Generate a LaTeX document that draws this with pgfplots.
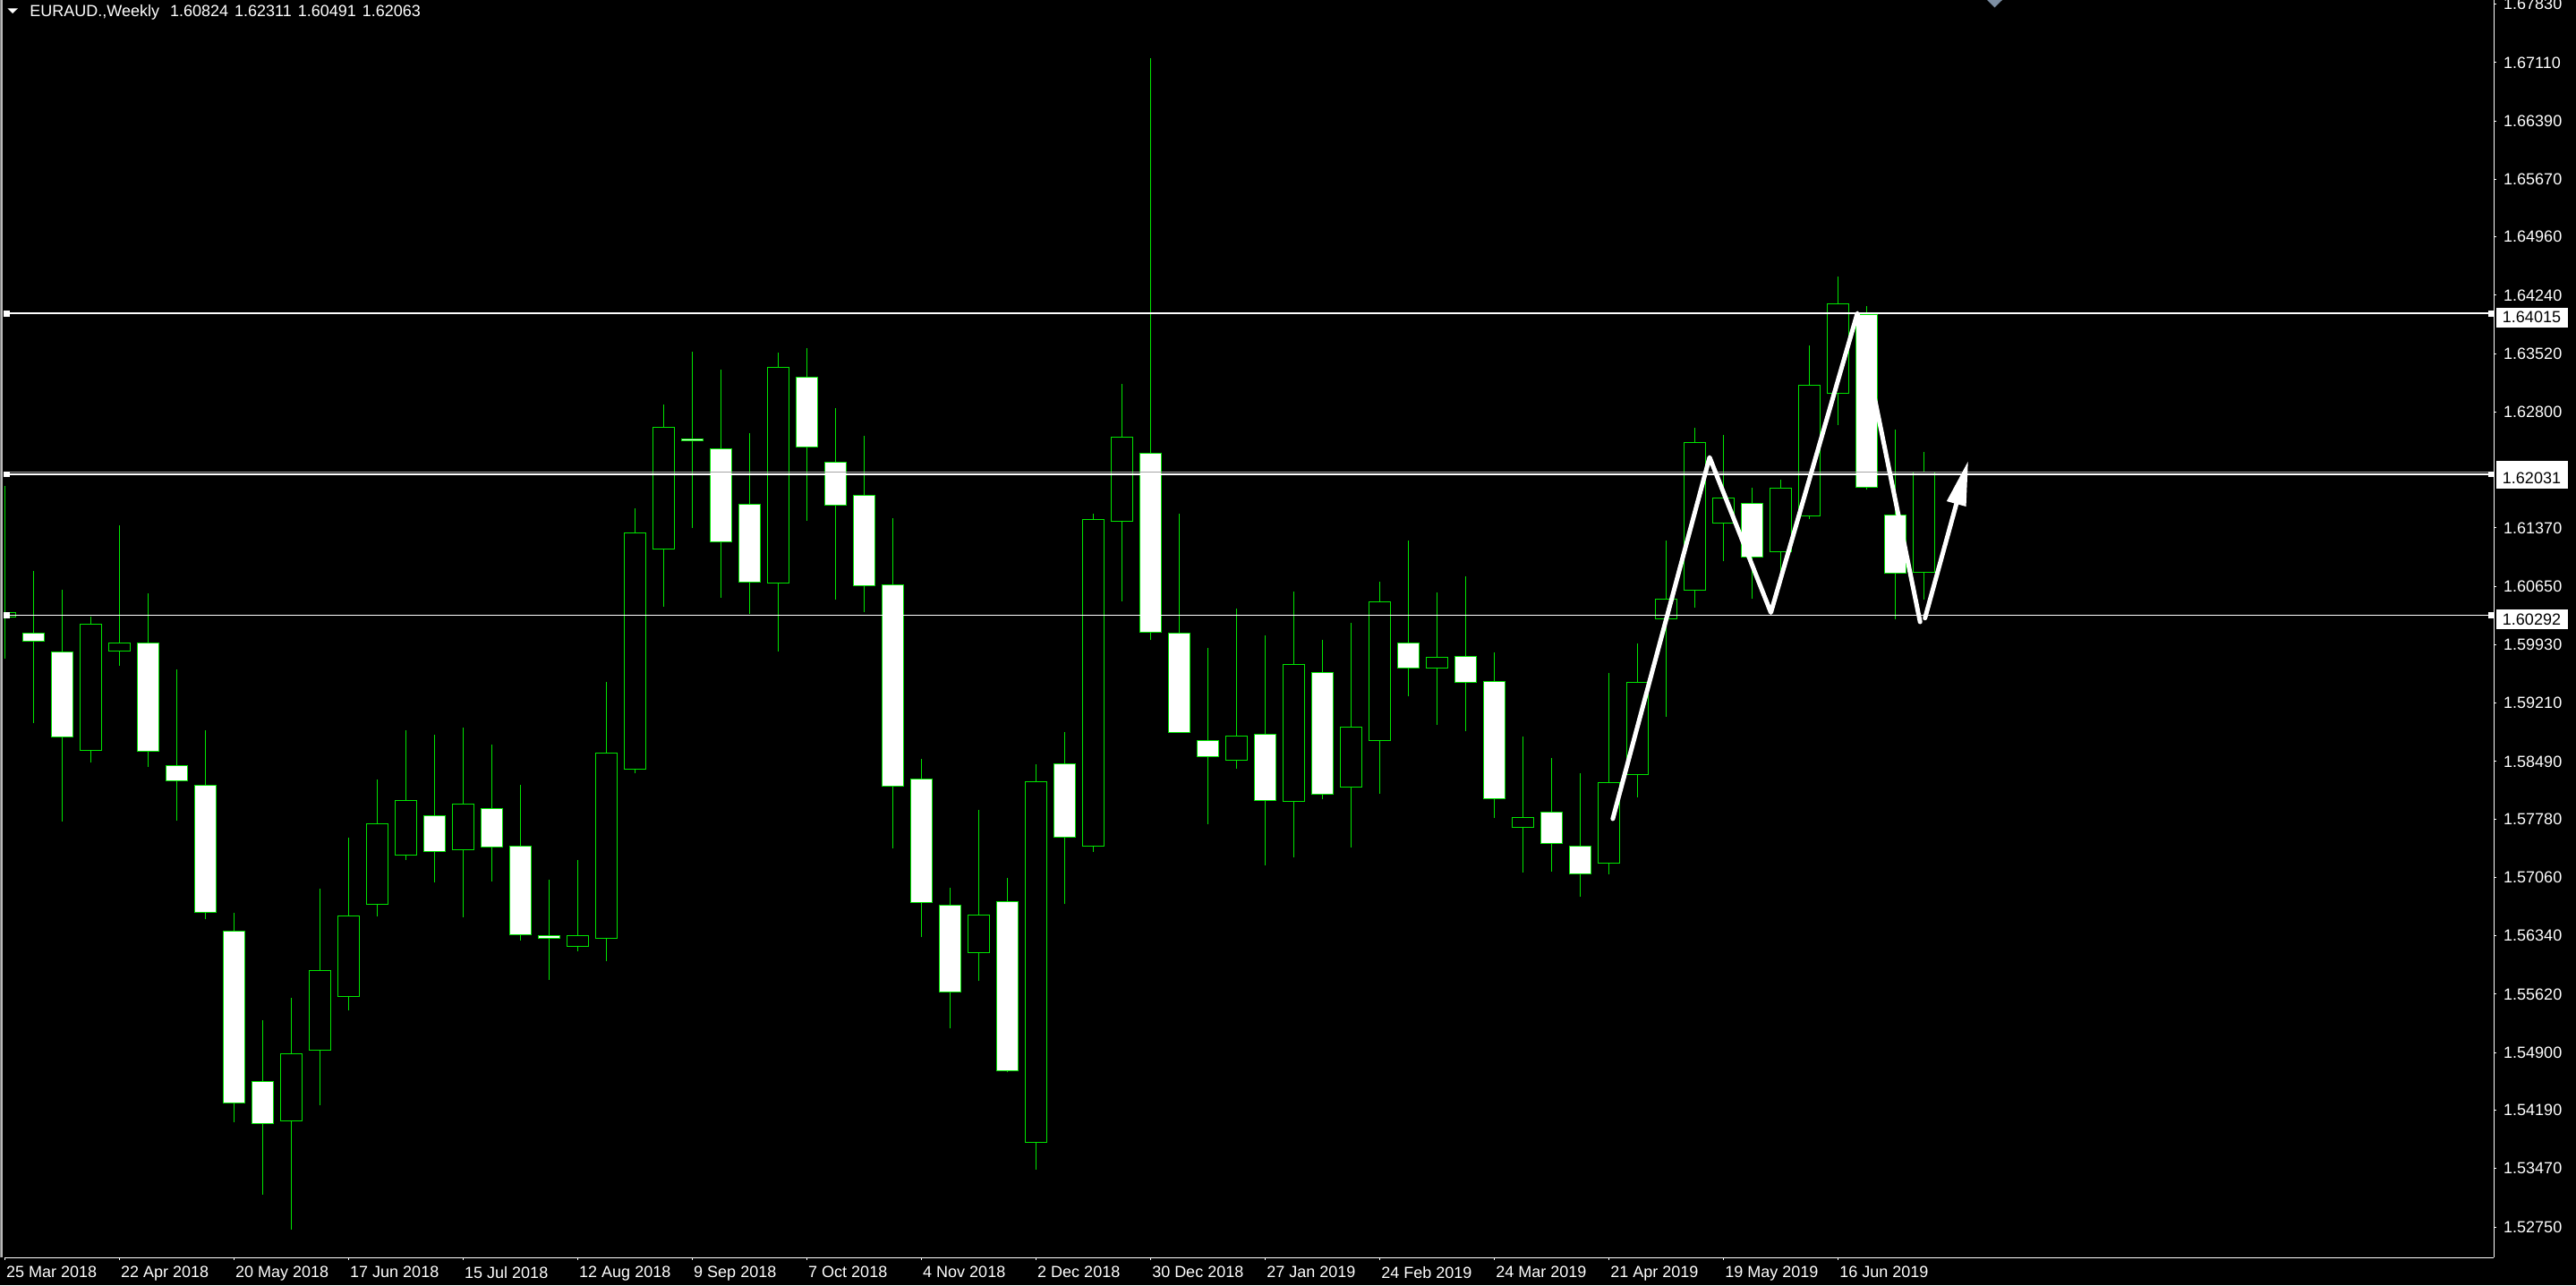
\documentclass[border=0pt]{standalone}
\usepackage{pgfplots}
\pgfplotsset{compat=1.18}
\usepackage{pgfplotstable}
\usetikzlibrary{arrows.meta}
\usepackage{fontspec}
\setmainfont{Liberation Sans}
\definecolor{cgreen}{RGB}{0,230,0}
\definecolor{markgray}{RGB}{125,142,162}
\newcommand\lab{\fontsize{9pt}{10pt}\selectfont}

\pgfplotstableread{
i O H L C
0 1.60266 1.61890 1.59757 1.60332
1 1.60072 1.60838 1.58969 1.59977
2 1.59842 1.60607 1.57747 1.58794
3 1.58631 1.60281 1.58473 1.60179
4 1.59853 1.61400 1.59673 1.59954
5 1.59954 1.60562 1.58423 1.58620
6 1.58439 1.59628 1.57758 1.58254
7 1.58197 1.58879 1.56542 1.56632
8 1.56401 1.56626 1.54047 1.54278
9 1.54543 1.55303 1.53152 1.54025
10 1.54058 1.55579 1.52718 1.54886
11 1.54931 1.56925 1.54250 1.55917
12 1.55596 1.57550 1.55421 1.56581
13 1.56724 1.58266 1.56575 1.57717
14 1.57333 1.58870 1.57273 1.58014
15 1.57816 1.58815 1.56998 1.57377
16 1.57399 1.58903 1.56570 1.57970
17 1.57915 1.58694 1.57009 1.57437
18 1.57443 1.58200 1.56284 1.56350
19 1.56339 1.57031 1.55796 1.56306
20 1.56213 1.57273 1.56153 1.56339
21 1.56306 1.59469 1.56032 1.58590
22 1.58393 1.61610 1.58349 1.61313
23 1.61105 1.62889 1.60402 1.62609
24 1.62466 1.63542 1.61374 1.62444
25 1.62351 1.63328 1.60512 1.61203
26 1.61657 1.62537 1.60306 1.60707
27 1.60693 1.63530 1.59849 1.63347
28 1.63234 1.63586 1.61460 1.62368
29 1.62178 1.62847 1.60482 1.61650
30 1.61770 1.62502 1.60334 1.60658
31 1.60665 1.61496 1.57421 1.58181
32 1.58272 1.58518 1.56323 1.56752
33 1.56717 1.56928 1.55197 1.55647
34 1.56133 1.57892 1.55781 1.56597
35 1.56766 1.57055 1.54662 1.54676
36 1.53796 1.58455 1.53458 1.58244
37 1.58462 1.58849 1.56731 1.57561
38 1.57442 1.61541 1.57378 1.61477
39 1.61449 1.63151 1.60470 1.62492
40 1.62291 1.67159 1.59986 1.60086
41 1.60077 1.61541 1.58840 1.58851
42 1.58750 1.59894 1.57717 1.58549
43 1.58503 1.60379 1.58403 1.58805
44 1.58824 1.60050 1.57213 1.58009
45 1.58000 1.60589 1.57305 1.59684
46 1.59592 1.59986 1.58028 1.58083
47 1.58174 1.60196 1.57433 1.58915
48 1.58750 1.60708 1.58092 1.60461
49 1.59949 1.61212 1.59299 1.59647
50 1.59642 1.60571 1.58941 1.59773
51 1.59781 1.60769 1.58865 1.59464
52 1.59473 1.59832 1.57792 1.58029
53 1.57674 1.58793 1.57121 1.57796
54 1.57864 1.58531 1.57133 1.57475
55 1.57442 1.58341 1.56821 1.57099
56 1.57235 1.59587 1.57099 1.58227
57 1.58328 1.59942 1.58050 1.59464
58 1.60250 1.61213 1.59042 1.60491
59 1.60600 1.62610 1.60389 1.62420
60 1.61428 1.62513 1.60959 1.61736
61 1.61677 1.61871 1.60499 1.61010
62 1.61072 1.61970 1.60829 1.61856
63 1.61513 1.63625 1.61480 1.63125
64 1.63026 1.64475 1.62636 1.64129
65 1.63997 1.64111 1.61841 1.61867
66 1.61525 1.62588 1.60241 1.60807
67 1.60824 1.62311 1.60491 1.62063
}\candles

\begin{document}
\begin{tikzpicture}
\fill[black] (0,0) rectangle (1439pt,718pt);
\fill[gray!55] (0,15.5pt) rectangle (1.35pt,718pt);
\fill[gray] (0,15.5pt) rectangle (0.5pt,718pt);
\begin{axis}[
  at={(2.25pt,15.5pt)}, anchor=south west,
  scale only axis, width=1390.75pt, height=702.5pt,
  xmin=-0.025, xmax=86.897, ymin=1.523752, ymax=1.678808,
  axis x line=bottom, axis y line=right,
  axis line style={white, line width=0.5pt, -},
  clip mode=individual,
  tick align=outside, major tick length=1.5pt,
  tick style={white, line width=0.5pt},
  minor tick num=0,
  xtick={0,4,...,64},
  xticklabels={25 Mar 2018,22 Apr 2018,20 May 2018,17 Jun 2018,15 Jul 2018,12 Aug 2018,9 Sep 2018,7 Oct 2018,4 Nov 2018,2 Dec 2018,30 Dec 2018,27 Jan 2019,24 Feb 2019,24 Mar 2019,21 Apr 2019,19 May 2019,16 Jun 2019},
  xticklabel style={anchor=north west, inner sep=0pt, text=white, font=\lab, xshift=0.75pt, yshift=-3.5pt},
  ytick={1.52750,1.53470,1.54190,1.54900,1.55620,1.56340,1.57060,1.57780,1.58490,1.59210,1.59930,1.60650,1.61370,1.62800,1.63520,1.64240,1.64960,1.65670,1.66390,1.67110,1.67830},
  yticklabels={1.52750,1.53470,1.54190,1.54900,1.55620,1.56340,1.57060,1.57780,1.58490,1.59210,1.59930,1.60650,1.61370,1.62800,1.63520,1.64240,1.64960,1.65670,1.66390,1.67110,1.67830},
  yticklabel style={anchor=west, inner sep=0pt, text=white, font=\lab, xshift=3.85pt},
  scaled y ticks=false,
]
% wicks
\addplot[draw=none, mark=none, forget plot,
  error bars/.cd, y dir=plus, y explicit, error mark=none,
  error bar style={draw=cgreen, line width=0.5pt}]
  table[x=i, y=L, y error plus expr={\thisrow{H}-\thisrow{L}}] {\candles};
% body outline
\addplot[draw=none, mark=none, forget plot,
  error bars/.cd, y dir=plus, y explicit, error mark=none,
  error bar style={draw=cgreen, line width=12.25pt, line cap=butt}]
  table[x=i, y expr={min(\thisrow{O},\thisrow{C})-0.0000552}, y error plus expr={abs(\thisrow{C}-\thisrow{O})+0.0001104}] {\candles};
% bear bodies (white)
\addplot[draw=none, mark=none, forget plot,
  error bars/.cd, y dir=plus, y explicit, error mark=none,
  error bar style={draw=white, line width=11.25pt, line cap=butt}]
  table[x=i, y expr={\thisrow{C}+0.0000552}, y error plus expr={max(\thisrow{O}-\thisrow{C}-0.0001104,0)}] {\candles};
% bull bodies (black)
\addplot[draw=none, mark=none, forget plot,
  error bars/.cd, y dir=plus, y explicit, error mark=none,
  error bar style={draw=black, line width=11.25pt, line cap=butt}]
  table[x=i, y expr={\thisrow{O}+0.0000552}, y error plus expr={max(\thisrow{C}-\thisrow{O}-0.0001104,0)}] {\candles};
% bid line
\addplot[gray!70, line width=0.5pt, mark=none] coordinates {(-0.025,1.62063) (86.897,1.62063)};
% horizontal levels
\addplot[white, line width=0.8pt, mark=square*, mark size=1.3pt, mark options={fill=white, draw=white}] coordinates {(0.07,1.64015) (86.82,1.64015)};
\addplot[white, line width=0.8pt, mark=none] coordinates {(-0.025,1.64015) (86.897,1.64015)};
\addplot[white, line width=0.8pt, mark=square*, mark size=1.3pt, mark options={fill=white, draw=white}] coordinates {(0.07,1.62031) (86.82,1.62031)};
\addplot[white, line width=0.8pt, mark=none] coordinates {(-0.025,1.62031) (86.897,1.62031)};
\addplot[white, line width=0.8pt, mark=square*, mark size=1.3pt, mark options={fill=white, draw=white}] coordinates {(0.07,1.60292) (86.82,1.60292)};
\addplot[white, line width=0.8pt, mark=none] coordinates {(-0.025,1.60292) (86.897,1.60292)};
% zigzag
\addplot[white, line width=2.5pt, line join=round, line cap=round, mark=none] coordinates {(56.14,1.57783) (59.52,1.62241) (61.66,1.60327) (64.68,1.64018) (66.87,1.60211)};
\addplot[white, line width=2.5pt, line cap=round, mark=none, -{Triangle[length=25pt,width=10.5pt]}] coordinates {(67.04,1.60258) (68.55,1.62199)};
% price labels
\node[anchor=west, xshift=1pt, yshift=0.5pt, fill=white, minimum width=40pt, minimum height=11pt, inner sep=0pt] at (axis cs:86.897,1.62063) {};
\node[anchor=west, xshift=1pt, yshift=-2.25pt, fill=white, text=black, font=\lab, minimum width=40pt, minimum height=11pt, inner sep=0pt] at (axis cs:86.897,1.64015) {1.64015};
\node[anchor=west, xshift=1pt, yshift=-2.25pt, fill=white, text=black, font=\lab, minimum width=40pt, minimum height=11pt, inner sep=0pt] at (axis cs:86.897,1.62031) {1.62031};
\node[anchor=west, xshift=1pt, yshift=-2.25pt, fill=white, text=black, font=\lab, minimum width=40pt, minimum height=11pt, inner sep=0pt] at (axis cs:86.897,1.60292) {1.60292};
\end{axis}
% title
\fill[white] (4.15pt,713.35pt) -- (10pt,713.35pt) -- (7.07pt,710.5pt) -- cycle;
\node[anchor=base west, inner sep=0pt, text=white, font=\lab] at (16.5pt,708.5pt) {EURAUD.,Weekly\hspace{6pt}1.60824\hspace{3.5pt}1.62311\hspace{3.5pt}1.60491\hspace{3.5pt}1.62063};
\fill[markgray] (1110pt,718pt) -- (1118.5pt,718pt) -- (1114.25pt,713.85pt) -- cycle;
\pgfresetboundingbox
\useasboundingbox (0,0) rectangle (1439pt,718pt);
\end{tikzpicture}
\end{document}
